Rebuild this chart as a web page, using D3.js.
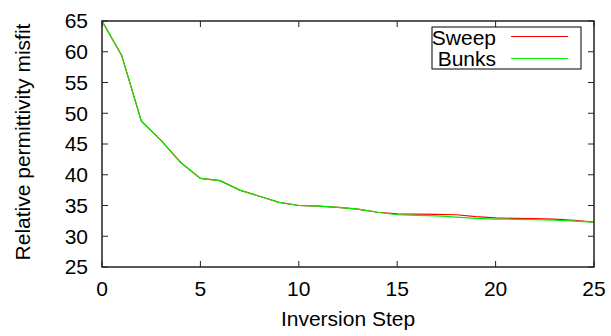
<!DOCTYPE html>
<html>
<head>
<meta charset="utf-8">
<script src="https://cdn.jsdelivr.net/npm/d3@7"></script>
<style>
  body { margin: 0; background: #fff; }
  text { font-family: "Liberation Sans", Arial, sans-serif; font-size: 21px; fill: #000; }
</style>
</head>
<body>
<svg id="chart" width="611" height="336"></svg>
<script>
// inversion steps 0..25
const steps = d3.range(0, 26);

const sweep = [65, 59.4, 48.7, 45.6, 42, 39.4, 39.05, 37.5, 36.5, 35.5,
  35.0, 34.9, 34.7, 34.4, 33.9, 33.65, 33.6, 33.55, 33.5, 33.2,
  33.0, 32.9, 32.85, 32.8, 32.6, 32.3];

const bunks = [65, 59.4, 48.7, 45.6, 42, 39.4, 39.05, 37.5, 36.5, 35.5,
  35.0, 34.9, 34.7, 34.4, 33.9, 33.5, 33.4, 33.3, 33.1, 32.9,
  32.8, 32.75, 32.7, 32.6, 32.45, 32.3];

const xTicks = [0, 5, 10, 15, 20, 25];
const yTicks = [25, 30, 35, 40, 45, 50, 55, 60, 65];

const series = [
  { name: "Sweep", values: sweep, color: "#ff0000" },
  { name: "Bunks", values: bunks, color: "#00ee00" },
];

const svg = d3.select("#chart");

const plot = { left: 102, right: 594, top: 21, bottom: 267 };

const x = d3.scaleLinear().domain([0, 25]).range([plot.left, plot.right]);
const y = d3.scaleLinear().domain([25, 65]).range([plot.bottom, plot.top]);

// ticks on all four sides, pointing inward
const tk = 6;
const ticks = svg.append("g").attr("stroke", "#222").attr("stroke-width", 1);
xTicks.forEach((t) => {
  ticks.append("line").attr("x1", x(t)).attr("x2", x(t)).attr("y1", plot.bottom).attr("y2", plot.bottom - tk);
  ticks.append("line").attr("x1", x(t)).attr("x2", x(t)).attr("y1", plot.top).attr("y2", plot.top + tk);
});
yTicks.forEach((t) => {
  ticks.append("line").attr("x1", plot.left).attr("x2", plot.left + tk).attr("y1", y(t)).attr("y2", y(t));
  ticks.append("line").attr("x1", plot.right).attr("x2", plot.right - tk).attr("y1", y(t)).attr("y2", y(t));
});

// tick labels
svg.append("g")
  .selectAll("text")
  .data(xTicks)
  .join("text")
  .attr("x", (d) => x(d))
  .attr("y", plot.bottom + 29)
  .attr("text-anchor", "middle")
  .text((d) => d);

svg.append("g")
  .selectAll("text")
  .data(yTicks)
  .join("text")
  .attr("x", plot.left - 14)
  .attr("y", (d) => y(d))
  .attr("dy", "0.35em")
  .attr("text-anchor", "end")
  .text((d) => d);

// axis titles
svg.append("text")
  .attr("x", (plot.left + plot.right) / 2)
  .attr("y", 326)
  .attr("text-anchor", "middle")
  .text("Inversion Step");

svg.append("text")
  .attr("transform", "translate(30,142) rotate(-90)")
  .attr("text-anchor", "middle")
  .text("Relative permittivity misfit");

// lines
const line = d3.line()
  .x((d, i) => x(steps[i]))
  .y((d) => y(d));

svg.append("g")
  .attr("fill", "none")
  .selectAll("path")
  .data(series)
  .join("path")
  .attr("stroke", (d) => d.color)
  .attr("stroke-width", 1.2)
  .attr("d", (d) => line(d.values));

// frame
svg.append("rect")
  .attr("x", plot.left)
  .attr("y", plot.top)
  .attr("width", plot.right - plot.left)
  .attr("height", plot.bottom - plot.top)
  .attr("fill", "none")
  .attr("stroke", "#222")
  .attr("stroke-width", 1.5);

// legend
const legend = svg.append("g");
legend.append("rect")
  .attr("x", 432).attr("y", 27)
  .attr("width", 149).attr("height", 42)
  .attr("fill", "#fff")
  .attr("stroke", "#000")
  .attr("stroke-width", 1);

series.forEach((s, i) => {
  legend.append("text")
    .attr("x", 496)
    .attr("y", 45 + i * 20.5)
    .attr("text-anchor", "end")
    .text(s.name);
  legend.append("line")
    .attr("x1", 511).attr("x2", 568)
    .attr("y1", 36.5 + i * 22).attr("y2", 36.5 + i * 22)
    .attr("stroke", s.color)
    .attr("stroke-width", 1.2);
});
</script>
</body>
</html>
